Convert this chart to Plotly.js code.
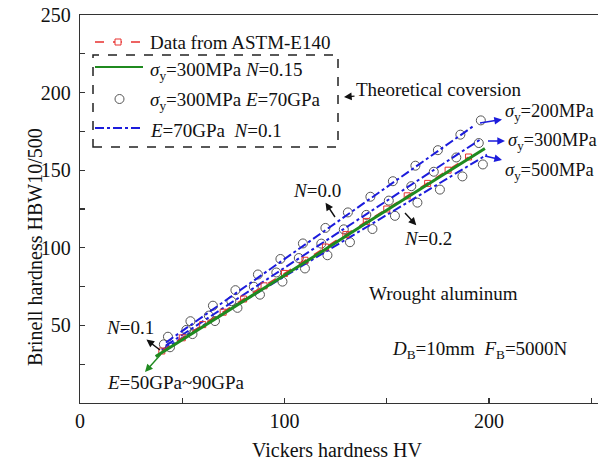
<!DOCTYPE html>
<html>
<head>
<meta charset="utf-8">
<script src="https://cdn.plot.ly/plotly-3.0.1.min.js"></script>
<style>html,body{margin:0;padding:0;background:#fff;}#chart{width:598px;height:474px;}</style>
</head>
<body>
<div id="chart"></div>
<script>
// ---------------- data ----------------
const astmHV  = [40, 50, 60, 70, 80, 90, 100, 110, 120, 130, 140, 150, 160, 170, 180, 190];
const astmHBW = [33.5, 42, 50.5, 58.5, 67, 75.5, 83.5, 92, 100.5, 108.5, 117, 125, 133.5, 141.5, 150, 158.5];

const greenHV  = [37, 60, 80, 100, 120, 140, 160, 180, 198];
const greenHBW = [30, 49, 66, 82.5, 99, 116, 132.5, 149, 164];

const blue200HV  = [42, 80, 120, 160, 193];
const blue200HBW = [39, 74.2, 111.3, 148.4, 179];
const blue300HV  = [42, 80, 120, 160, 196];
const blue300HBW = [37, 69.8, 104.4, 139, 170];
const blue500HV  = [40, 80, 120, 160, 199];
const blue500HBW = [34, 65.7, 97.4, 129, 160];

const circ1HV  = [43, 54, 65, 76, 87, 98, 109, 120, 131, 142, 153, 164, 175, 186, 196];
const circ1HBW = [42.7, 52.7, 62.7, 72.7, 82.8, 92.8, 102.8, 112.8, 122.8, 132.9, 142.9, 152.9, 162.9, 172.9, 182.1];
const circ2HV  = [41, 52, 63, 74, 85, 96, 107, 118, 129, 140, 151, 162, 173, 184, 195];
const circ2HBW = [37.8, 47.1, 56.3, 65.6, 74.9, 84.1, 93.4, 102.7, 111.9, 121.2, 130.4, 139.7, 149, 158.2, 167.5];
const circ3HV  = [44, 55, 66, 77, 88, 99, 110, 121, 132, 143, 154, 165, 176, 187, 197];
const circ3HBW = [35.9, 44.4, 52.8, 61.3, 69.8, 78.2, 86.7, 95.2, 103.6, 112.1, 120.6, 129.1, 137.5, 146, 153.7];

const xTicks = [0, 100, 200];
const yTicks = [50, 100, 150, 200, 250];

// ---------------- layout helpers ----------------
const L = 80, T = 15, W = 518, H = 388;
const XR = [0, 253.3], YR = [0, 250];
const fx = px => (px - L) / W * (XR[1] - XR[0]) + XR[0];
const fy = py => (T + H - py) / H * (YR[1] - YR[0]) + YR[0];
const FONT = 'Liberation Serif, Times New Roman, serif';
const RED = '#e8312f', GREEN = '#1f8a1f', BLUE = '#1c1cdc', GREY = '#555555';

const circleMarker = {symbol: 'circle-open', size: 9, color: GREY, line: {width: 1, color: GREY}};

const traces = [
  {x: circ1HV, y: circ1HBW, mode: 'markers', marker: circleMarker, name: 'circles N=0.0'},
  {x: circ2HV, y: circ2HBW, mode: 'markers', marker: circleMarker, name: 'circles N=0.1'},
  {x: circ3HV, y: circ3HBW, mode: 'markers', marker: circleMarker, name: 'circles N=0.2'},
  {x: blue200HV, y: blue200HBW, mode: 'lines', line: {color: BLUE, width: 2, dash: 'dashdot'}, name: 'σy=200'},
  {x: blue300HV, y: blue300HBW, mode: 'lines', line: {color: BLUE, width: 2, dash: 'dashdot'}, name: 'σy=300'},
  {x: blue500HV, y: blue500HBW, mode: 'lines', line: {color: BLUE, width: 2, dash: 'dashdot'}, name: 'σy=500'},
  {x: astmHV, y: astmHBW, mode: 'lines+markers', line: {color: RED, width: 1.5, dash: 'dash'},
   marker: {symbol: 'square-open', size: 6, color: RED, line: {width: 1, color: RED}}, name: 'ASTM-E140'},
  {x: greenHV, y: greenHBW, mode: 'lines', line: {color: GREEN, width: 3}, name: 'N=0.15'}
];

function txt(px, py, text, opts) {
  return Object.assign({x: fx(px), y: fy(py), xref: 'x', yref: 'y', text: text, showarrow: false,
    font: {family: FONT, size: 19, color: '#111'}, xanchor: 'center', yanchor: 'middle'}, opts || {});
}
// label with an arrow whose head sits next to the label (pointing from the data toward the text)
function labelArrow(cx, cy, text, tailX, tailY, color, fontSize) {
  return {x: fx(tailX), y: fy(tailY), ax: fx(cx), ay: fy(cy), xref: 'x', yref: 'y', axref: 'x', ayref: 'y',
    text: text, showarrow: true, arrowside: 'start', arrowhead: 2, startarrowhead: 2, startarrowsize: 1.1,
    arrowwidth: 1.4, arrowcolor: color || '#111', startstandoff: 1,
    font: {family: FONT, size: fontSize || 19, color: '#111'}};
}

const annotations = [
  // legend texts
  txt(148, 42, 'Data from ASTM-E140', {xanchor: 'left'}),
  txt(148, 71, '<i>σ</i><sub>y</sub>=300MPa <i>N</i>=0.15', {xanchor: 'left'}),
  txt(148, 101, '<i>σ</i><sub>y</sub>=300MPa <i>E</i>=70GPa', {xanchor: 'left'}),
  txt(148, 130, '<i>E</i>=70GPa  <i>N</i>=0.1', {xanchor: 'left'}),
  // theoretical conversion (arrow points at the legend box)
  {x: fx(344), y: fy(97), ax: fx(439), ay: fy(89), xref: 'x', yref: 'y', axref: 'x', ayref: 'y',
   text: 'Theoretical coversion', showarrow: true, arrowhead: 2, arrowsize: 1.1, arrowwidth: 1.4, arrowcolor: '#111',
   standoff: 0, font: {family: FONT, size: 19, color: '#111'}},
  // sigma labels
  labelArrow(549, 112, '<i>σ</i><sub>y</sub>=200MPa', 480, 123, BLUE, 18.5),
  labelArrow(552, 141, '<i>σ</i><sub>y</sub>=300MPa', 488, 141, BLUE, 18.5),
  labelArrow(549, 171, '<i>σ</i><sub>y</sub>=500MPa', 485, 156, BLUE, 18.5),
  // N labels
  labelArrow(317, 190, '<i>N</i>=0.0', 335, 217),
  labelArrow(428, 238, '<i>N</i>=0.2', 405, 213),
  labelArrow(130, 327, '<i>N</i>=0.1', 160, 350),
  txt(176, 382, '<i>E</i>=50GPa~90GPa'),
  {x: fx(145), y: fy(372), ax: fx(162), ay: fy(353), xref: 'x', yref: 'y', axref: 'x', ayref: 'y',
   text: ' ', font: {size: 1}, showarrow: true, arrowhead: 2, arrowsize: 1.1, arrowwidth: 1.4, arrowcolor: GREEN},
  // notes
  txt(443, 293, 'Wrought aluminum'),
  txt(480, 350, '<i>D</i><sub>B</sub>=10mm  <i>F</i><sub>B</sub>=5000N'),
  // axis titles
  {x: (337 - L) / W, y: (T + H - 450) / H, xref: 'paper', yref: 'paper', text: 'Vickers hardness HV', showarrow: false,
   font: {family: FONT, size: 20, color: '#111'}, xanchor: 'center', yanchor: 'middle'},
  {x: (35 - L) / W, y: (T + H - 247) / H, xref: 'paper', yref: 'paper', text: 'Brinell hardness HBW10/500', showarrow: false,
   textangle: -90, font: {family: FONT, size: 20, color: '#111'}, xanchor: 'center', yanchor: 'middle'}
];

const shapes = [
  // legend dashed box
  {type: 'rect', xref: 'x', yref: 'y', x0: fx(93), x1: fx(338), y0: fy(147), y1: fy(55),
   line: {color: '#222', width: 1.5, dash: 'dash'}, fillcolor: 'rgba(0,0,0,0)'},
  // legend samples
  {type: 'line', xref: 'x', yref: 'y', x0: fx(95), x1: fx(143), y0: fy(42), y1: fy(42), line: {color: RED, width: 1.5, dash: 'dash'}},
  {type: 'rect', xref: 'x', yref: 'y', x0: fx(115), x1: fx(121), y0: fy(45), y1: fy(39), line: {color: RED, width: 1}, fillcolor: '#fff'},
  {type: 'line', xref: 'x', yref: 'y', x0: fx(95), x1: fx(143), y0: fy(67), y1: fy(67), line: {color: GREEN, width: 2}},
  {type: 'circle', xref: 'x', yref: 'y', x0: fx(115), x1: fx(124), y0: fy(103.5), y1: fy(94.5), line: {color: GREY, width: 1}},
  {type: 'line', xref: 'x', yref: 'y', x0: fx(95), x1: fx(143), y0: fy(128), y1: fy(128), line: {color: BLUE, width: 2, dash: 'dashdot'}}
];

const axisCommon = {
  showgrid: false, zeroline: false, showline: true, linecolor: '#333', linewidth: 1.3,
  ticks: 'inside', ticklen: 5, tickwidth: 1.2, tickcolor: '#333',
  tickfont: {family: FONT, size: 20, color: '#111'}
};

const layout = {
  width: 598, height: 474,
  margin: {l: L, r: 598 - L - W, t: T, b: 474 - T - H, pad: 0},
  paper_bgcolor: '#fff', plot_bgcolor: '#fff',
  showlegend: false,
  font: {family: FONT, size: 19, color: '#111'},
  xaxis: Object.assign({}, axisCommon, {range: XR, tickmode: 'array', tickvals: xTicks, ticktext: xTicks.map(String),
    mirror: true, minor: {tickvals: [50, 150, 250], ticks: 'inside', ticklen: 5, tickcolor: '#333'}}),
  yaxis: Object.assign({}, axisCommon, {range: YR, tickmode: 'array', tickvals: yTicks, ticktext: yTicks.map(String),
    ticklabelstandoff: 4, minor: {tickvals: [25, 75, 125, 175, 225], ticks: 'inside', ticklen: 5, tickcolor: '#333'}}),
  annotations: annotations,
  shapes: shapes
};

Plotly.newPlot('chart', traces, layout, {displayModeBar: false, staticPlot: true});
</script>
</body>
</html>
